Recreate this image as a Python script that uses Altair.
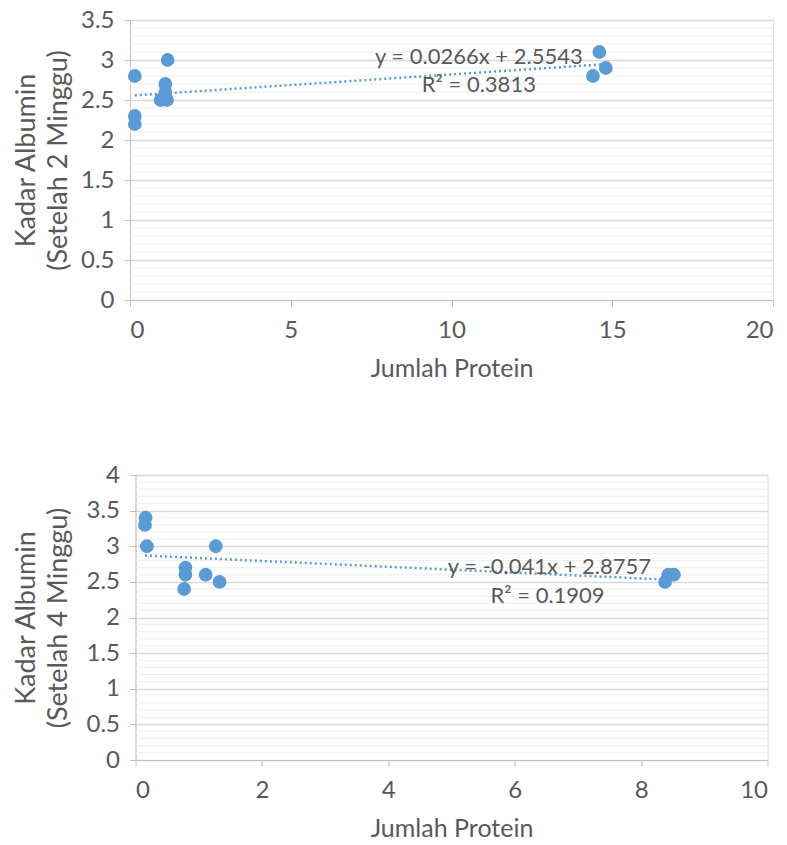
import altair as alt
import pandas as pd

# ---- data ----
top_x = [0.15, 0.15, 0.15, 0.95, 1.15, 1.1, 1.1, 1.17, 14.4, 14.6, 14.8]
top_y = [2.8, 2.3, 2.2, 2.5, 2.5, 2.6, 2.7, 3.0, 2.8, 3.1, 2.9]
top_slope, top_icept = 0.0266, 2.5543
top_eq = ["y = 0.0266x + 2.5543", "R² = 0.3813"]
top_eq_x = [10.85, 10.85]
top_eq_y = [3.04, 2.69]
top_xticks = [0, 5, 10, 15, 20]
top_yticks = [0, 0.5, 1, 1.5, 2, 2.5, 3, 3.5]
top_minor = [0.1, 0.2, 0.3, 0.4, 0.6, 0.7, 0.8, 0.9, 1.1, 1.2, 1.3, 1.4, 1.6, 1.7, 1.8, 1.9,
             2.1, 2.2, 2.3, 2.4, 2.6, 2.7, 2.8, 2.9, 3.1, 3.2, 3.3, 3.4]

bot_x = [0.16, 0.15, 0.18, 0.79, 0.79, 0.77, 1.27, 1.11, 1.33, 8.38, 8.43, 8.52]
bot_y = [3.4, 3.3, 3.0, 2.7, 2.6, 2.4, 3.0, 2.6, 2.5, 2.5, 2.6, 2.6]
bot_slope, bot_icept = -0.041, 2.8757
bot_eq = ["y = -0.041x + 2.8757", "R² = 0.1909"]
bot_eq_x = [6.55, 6.52]
bot_eq_y = [2.71, 2.30]
bot_xticks = [0, 2, 4, 6, 8, 10]
bot_yticks = [0, 0.5, 1, 1.5, 2, 2.5, 3, 3.5, 4]
bot_minor = top_minor + [3.6, 3.7, 3.8, 3.9]

BLUE = "#5B9BD5"
GREY = "#595959"
FONT = "Lato"


def panel(xs, ys, slope, icept, eq, eqx, eqy, xticks, yticks, minor_vals, ytitle, w, h, title_x):
    pts = pd.DataFrame({"x": xs, "y": ys})
    ends = pd.DataFrame({"x": [min(xs), max(xs)]})
    txt = pd.DataFrame({"x": eqx, "y": eqy, "t": eq})
    minor = pd.DataFrame({"y": minor_vals})
    xs_ = alt.Scale(domain=[xticks[0], xticks[-1]], nice=False)
    ys_ = alt.Scale(domain=[yticks[0], yticks[-1]], nice=False)
    xaxis = alt.Axis(values=xticks, format="~f", grid=False, title="Jumlah Protein",
                     domainColor="#BFBFBF", tickColor="#BFBFBF", tickSize=6,
                     labelColor=GREY, labelFont=FONT, labelFontSize=24, labelPadding=12,
                     titleColor=GREY, titleFont=FONT, titleFontSize=25, titleFontWeight="normal",
                     titlePadding=14)
    yaxis = alt.Axis(values=yticks, format="~f", grid=True, gridColor="#D9D9D9", gridWidth=1.3,
                     domainColor="#BFBFBF", tickColor="#BFBFBF", tickSize=6,
                     labelColor=GREY, labelFont=FONT, labelFontSize=24, labelPadding=10,
                     title=ytitle, titleColor=GREY, titleFont=FONT, titleFontSize=27,
                     titleFontWeight="normal", titleLineHeight=32, titleX=title_x,
                     titleBaseline="bottom")
    X = alt.X("x:Q", scale=xs_, axis=xaxis)
    Y = alt.Y("y:Q", scale=ys_, axis=yaxis)
    grid = alt.Chart(minor).mark_rule(color="#EEEEEE", strokeWidth=1).encode(y=Y)
    base = alt.Chart(pts).mark_circle(size=190, color=BLUE, opacity=1).encode(x=X, y=Y)
    trend = alt.Chart(ends).transform_calculate(
        y=f"{slope} * datum.x + {icept}"
    ).mark_line(color=BLUE, strokeDash=[2, 3], strokeWidth=2.5).encode(x=X, y=Y)
    text = alt.Chart(txt).mark_text(font=FONT, fontSize=22, color=GREY, align="center",
                                    baseline="middle").encode(x=X, y=Y, text="t:N")
    return alt.layer(grid, base, trend, text).properties(width=w, height=h)


top = panel(top_x, top_y, top_slope, top_icept, top_eq, top_eq_x, top_eq_y, top_xticks,
            top_yticks, top_minor, ["Kadar Albumin", "(Setelah 2 Minggu)"], 643, 280, -90)
bot = panel(bot_x, bot_y, bot_slope, bot_icept, bot_eq, bot_eq_x, bot_eq_y, bot_xticks,
            bot_yticks, bot_minor, ["Kadar Albumin", "(Setelah 4 Minggu)"], 632, 285, -95)

chart = alt.vconcat(top, bot, spacing=80, center=True).properties(
    padding={"left": 11, "top": 7, "right": 0, "bottom": 5}
).configure_view(stroke=None).configure(background="white")

chart.save("out.html", embed_options={"renderer": "svg", "actions": False})
